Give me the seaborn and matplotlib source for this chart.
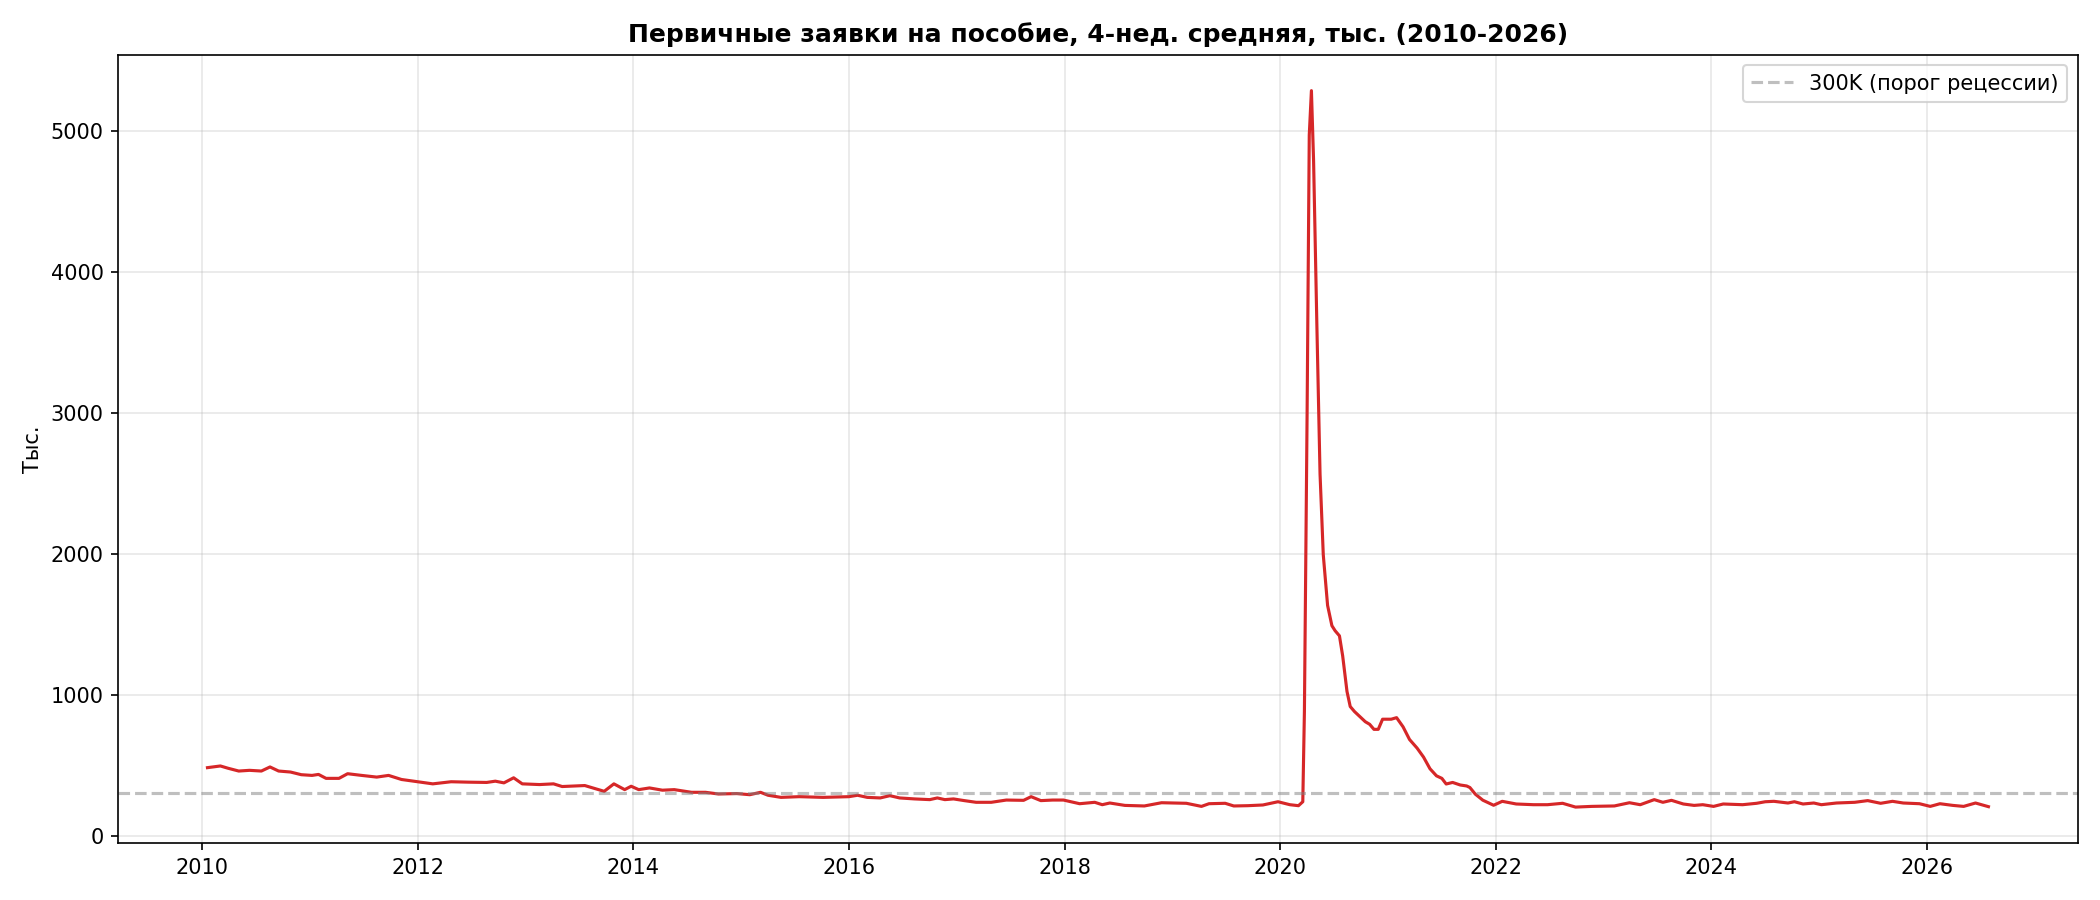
import matplotlib
matplotlib.use("Agg")
import matplotlib.pyplot as plt
import matplotlib.ticker as mticker
import seaborn as sns
import pandas as pd

# Decimal-year positions and 4-week average initial claims (thousands)
years = [
    2010.05, 2010.17, 2010.24, 2010.34, 2010.44, 2010.55, 2010.63, 2010.71, 2010.82, 2010.92,
    2011.02, 2011.08, 2011.15, 2011.27, 2011.35, 2011.48, 2011.62, 2011.73, 2011.85, 2012.00,
    2012.14, 2012.31, 2012.47, 2012.64, 2012.72, 2012.80, 2012.89, 2012.97, 2013.13, 2013.26,
    2013.34, 2013.55, 2013.73, 2013.82, 2013.92, 2013.98, 2014.05, 2014.15, 2014.27, 2014.38,
    2014.54, 2014.67, 2014.79, 2014.96, 2015.08, 2015.18, 2015.25, 2015.37, 2015.54, 2015.76,
    2016.00, 2016.08, 2016.17, 2016.29, 2016.38, 2016.47, 2016.61, 2016.75, 2016.82, 2016.89,
    2016.97, 2017.07, 2017.18, 2017.32, 2017.46, 2017.62, 2017.69, 2017.78, 2017.89, 2017.99,
    2018.14, 2018.28, 2018.35, 2018.42, 2018.56, 2018.74, 2018.90, 2019.02, 2019.13, 2019.27,
    2019.34, 2019.49, 2019.57, 2019.70, 2019.84, 2019.98, 2020.09, 2020.17, 2020.21, 2020.225,
    2020.25, 2020.27, 2020.29, 2020.31, 2020.34, 2020.37, 2020.40, 2020.44, 2020.48, 2020.51,
    2020.55, 2020.58, 2020.62, 2020.65, 2020.69, 2020.74, 2020.79, 2020.83, 2020.87, 2020.91,
    2020.95, 2020.99, 2021.03, 2021.08, 2021.14, 2021.20, 2021.27, 2021.33, 2021.39, 2021.45,
    2021.50, 2021.54, 2021.60, 2021.67, 2021.73, 2021.76, 2021.81, 2021.88, 2021.98, 2022.06,
    2022.19, 2022.35, 2022.48, 2022.62, 2022.74, 2022.89, 2023.10, 2023.24, 2023.34, 2023.47,
    2023.55, 2023.63, 2023.74, 2023.84, 2023.92, 2024.02, 2024.11, 2024.29, 2024.42, 2024.50,
    2024.58, 2024.71, 2024.77, 2024.85, 2024.95, 2025.02, 2025.16, 2025.33, 2025.45, 2025.57,
    2025.68, 2025.78, 2025.93, 2026.03, 2026.12, 2026.24, 2026.34, 2026.45, 2026.57,
]
claims = [
    482, 494, 478, 458, 463, 458, 487, 458, 451, 432,
    427, 434, 406, 406, 439, 427, 415, 427, 398, 382,
    367, 382, 379, 377, 386, 374, 410, 367, 362, 367,
    348, 355, 314, 367, 326, 350, 326, 338, 322, 326,
    307, 307, 295, 298, 290, 307, 286, 271, 276, 271,
    276, 286, 271, 267, 283, 267, 260, 255, 267, 255,
    260, 248, 236, 236, 252, 250, 276, 248, 252, 252,
    226, 236, 219, 231, 214, 210, 233, 231, 229, 207,
    226, 229, 210, 212, 217, 240, 219, 212, 240, 880,
    2998, 4973, 5289, 4793, 3644, 2567, 1993, 1634, 1490, 1454,
    1418, 1275, 1023, 916, 880, 844, 808, 790, 754, 754,
    826, 826, 826, 837, 772, 682, 621, 557, 474, 424,
    406, 366, 377, 359, 352, 341, 294, 251, 215, 243,
    224, 219, 219, 229, 202, 207, 210, 233, 219, 255,
    236, 250, 224, 214, 219, 207, 224, 219, 229, 240,
    243, 231, 240, 224, 231, 219, 231, 236, 248, 229,
    243, 231, 226, 207, 226, 214, 207, 231, 205,
]

threshold = 300
title = "Первичные заявки на пособие, 4-нед. средняя, тыс. (2010-2026)"

df = pd.DataFrame({"year": years, "claims": claims})

fig, ax = plt.subplots(figsize=(14, 6), dpi=150)
sns.lineplot(data=df, x="year", y="claims", color="#d62728", linewidth=1.5, ax=ax)
ax.axhline(threshold, color="gray", linestyle="--", alpha=0.5, label="300K (порог рецессии)")

# year ticks every two years, shown as plain integers
ax.xaxis.set_major_locator(mticker.MultipleLocator(2))
ax.xaxis.set_major_formatter(mticker.StrMethodFormatter("{x:.0f}"))

ax.set_title(title, fontweight="bold", fontsize=12)
ax.set_xlabel("")
ax.set_ylabel("Тыс.")
ax.grid(True, alpha=0.3)
ax.legend(loc="upper right")

plt.tight_layout()
plt.savefig("out.png", dpi=150)
